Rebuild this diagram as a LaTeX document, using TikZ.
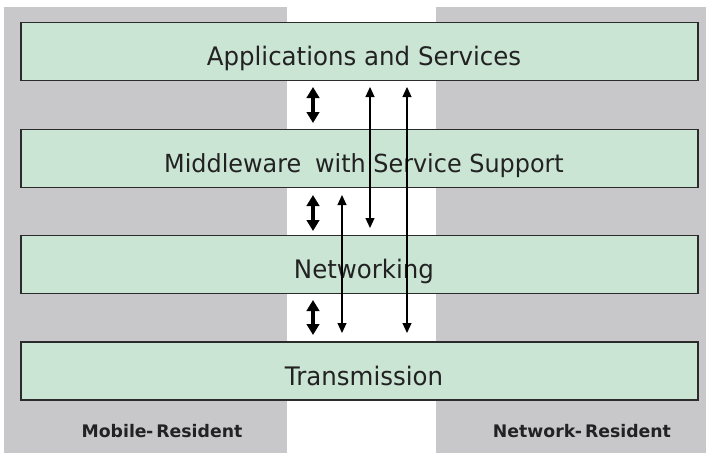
\documentclass[tikz,border=0pt]{standalone}
\usepackage{fontspec}
\setmainfont{DejaVu Sans}
\newfontfamily\layerfont[FakeStretch=0.96]{DejaVu Sans}
\usetikzlibrary{arrows.meta}
\definecolor{panelgray}{HTML}{C8C8CA}
\definecolor{layergreen}{HTML}{CBE5D5}
\definecolor{layeredge}{HTML}{2B2B2B}
\definecolor{inktext}{HTML}{222222}
\tikzset{
  layer/.style={draw=layeredge, line width=1.4pt, fill=layergreen,
    minimum width=677pt, minimum height=58pt, inner sep=0pt,
    text height=28pt, text depth=0pt,
    font=\layerfont\fontsize{25.5}{28}\selectfont, text=inktext},
  sidelabel/.style={anchor=base, font=\bfseries\fontsize{17.3}{20}\selectfont, text=inktext},
  fatarrow/.style={line width=4.5pt, {Triangle[width=12.5pt,length=11pt]}-{Triangle[width=12.5pt,length=11pt]}},
  thinarrow/.style={line width=1.2pt, {Triangle[width=9pt,length=10pt]}-{Triangle[width=9pt,length=10pt]}}
}
\begin{document}
\begin{tikzpicture}[x=1pt,y=-1pt]
  \useasboundingbox (0,0) rectangle (710,455);
  % resident side panels
  \fill[panelgray] (4,7) rectangle (287,453);
  \fill[panelgray] (436,7) rectangle (706,453);

  % protocol layers
  \node[layer] (app) at (359.5,51.5) {\hspace{9pt}Applications and Services};
  \node[layer, font=\layerfont\fontsize{24.9}{28}\selectfont] (mid) at (359.5,158.5)
    {\hspace{9pt}Middleware\hspace{0.55em}with Service Support};
  \node[layer] (net) at (359.5,264.5) {\hspace{9pt}Networking};
  \node[layer] (tra) at (359.5,371) {\hspace{9pt}Transmission};

  % side labels
  \node[sidelabel] (mob) at (162,437) {Mobile\kern-0.5pt-\kern3pt Resident};
  \node[sidelabel] (nwk) at (582,437) {Network\kern-0.5pt-\kern3pt Resident};

  % arrow end points
  \coordinate (f1a) at (313,87);  \coordinate (f1b) at (313,123);
  \coordinate (f2a) at (313,195); \coordinate (f2b) at (313,231);
  \coordinate (f3a) at (313,300); \coordinate (f3b) at (313,335);
  \coordinate (t1a) at (370,87);  \coordinate (t1b) at (370,228);
  \coordinate (t2a) at (407,87);  \coordinate (t2b) at (407,333);
  \coordinate (t3a) at (342,195); \coordinate (t3b) at (342,333);

  % adjacent-layer interactions
  \draw[fatarrow] (f1a) -- (f1b);
  \draw[fatarrow] (f2a) -- (f2b);
  \draw[fatarrow] (f3a) -- (f3b);

  % cross-layer interactions
  \draw[thinarrow] (t1a) -- (t1b);
  \draw[thinarrow] (t2a) -- (t2b);
  \draw[thinarrow] (t3a) -- (t3b);
\end{tikzpicture}
\end{document}
